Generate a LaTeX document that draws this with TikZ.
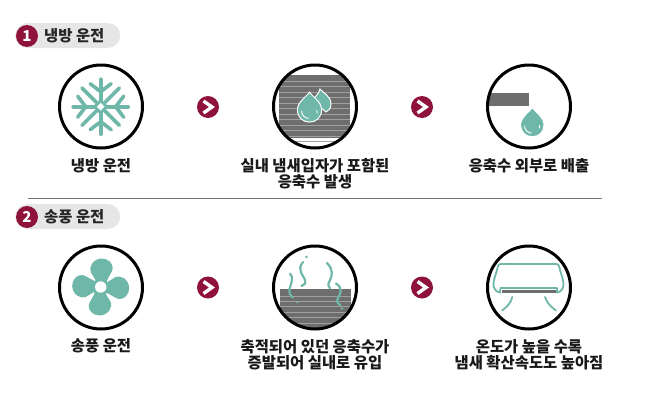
\documentclass[tikz,border=0pt]{standalone}
\usepackage{fontspec}
\setmainfont{Noto Sans CJK KR}
\definecolor{teal1}{HTML}{6FB7A9}
\definecolor{maroon1}{HTML}{8E1239}
\definecolor{pill}{HTML}{E6E6E6}
\definecolor{gr1}{HTML}{6E6E6E}
\definecolor{gr2}{HTML}{A0A0A0}
\tikzset{
 ring/.style={circle,draw=black,line width=3pt,minimum size=83pt,inner sep=0pt},
 cap1/.style={font=\fontsize{15.4}{16}\selectfont\bfseries,align=center,inner sep=0pt,text=black!90},
 head/.style={font=\fontsize{15.4}{16}\selectfont\bfseries,inner sep=0pt,text=black!85,anchor=west},
 numdot/.style={circle,fill=maroon1,minimum size=22pt,inner sep=0pt,text=white,font=\fontsize{15}{16}\selectfont\bfseries},
 pillbox/.style={rounded corners=12.5pt,fill=pill,draw=none,minimum width=105pt,minimum height=25pt,inner sep=0pt},
 nextdot/.style={circle,fill=maroon1,minimum size=22pt,inner sep=0pt},
 chev/.style={draw=white,line width=3.4pt,line join=miter},
 teal line/.style={draw=teal1,line width=3.6pt,line cap=round},
 wave/.style={draw=teal1,line width=2.2pt,line cap=round},
 ac/.style={draw=teal1,line width=1.8pt,line cap=round,line join=round},
 shine/.style={draw=white,line width=0.9pt,line cap=round}
}
\newcommand{\mydrop}[3]{%
 \begin{scope}[shift={(#1,#2)},scale=#3]
  \path[fill=teal1,draw=white,line width=1pt] (0,-17) .. controls (3,-12.5) and (11.5,-8) .. (11.5,0) .. controls (11.5,7) and (6.5,11.5) .. (0,11.5) .. controls (-6.5,11.5) and (-11.5,7) .. (-11.5,0) .. controls (-11.5,-8) and (-3,-12.5) .. (0,-17) -- cycle;
  \draw[shine] (-7.5,1) .. controls (-7.5,5) and (-4.5,7.5) .. (-1,8);
  \draw[shine] (7,0.5) -- (7.3,3);
 \end{scope}}
\newcommand{\mygrille}[6]{%
 \fill[gr1] (#1,#2) rectangle (#3,#4);
 \foreach \i in {0,...,#6}{\fill[gr2] (#1,#5+5.45*\i) rectangle (#3,#5+5.45*\i+1);}
}
\begin{document}
\begin{tikzpicture}[x=1pt,y=-1pt]
\useasboundingbox[fill=white] (0,0) rectangle (657,402);
% headers
\node[pillbox,anchor=west] (p1) at (15,35.5) {};
\node[numdot] (n1) at (27,36) {1};
\node[head] (h1) at (44,35.5) {냉방 운전};
\node[pillbox,anchor=west] (p2) at (15,216.5) {};
\node[numdot] (n2) at (27,217) {2};
\node[head] (h2) at (44,216.5) {송풍 운전};
% rule
\coordinate (ra) at (28,198.5); \coordinate (rb) at (602,198.5);
\draw[black!55,line width=1.2pt] (ra) -- (rb);
% grille 1
\begin{scope}
 \clip (315,106.5) circle (42);
 \mygrille{279}{75}{350}{138}{81}{11}
\end{scope}
% drops in icon 2
\path[fill=teal1,draw=white,line width=1pt] (320,89) .. controls (323,93) and (331,96) .. (331,104) .. controls (331,108) and (329,111) .. (326,112) -- (312,100) .. controls (315,97) and (319,94) .. (320,89) -- cycle;
\mydrop{309.5}{110}{1.05}
% drop icon 3
\begin{scope}
 \clip (529,106.5) circle (42);
 \fill[gr1] (480,93) rectangle (529,106);
\end{scope}
\mydrop{532.3}{125}{1.02}
% grille 2
\begin{scope}
 \clip (315,287.5) circle (42);
 \mygrille{280}{289}{351}{340}{295.5}{8}
\end{scope}
% wavy
\draw[wave] (290,273.5) .. controls (296,280) and (287,287) .. (290,294) .. controls (291,296) and (292,297) .. (293,297.5);
\fill[teal1] (297.5,302) circle (1.3);
\fill[teal1] (306.5,257) circle (1.3);
\draw[wave] (303,262) .. controls (296,270) and (304,276) .. (305,280) .. controls (306,284) and (304,285) .. (301.5,286);
\draw[wave] (327,263) .. controls (334,270) and (332,276) .. (330,280) .. controls (327,285) and (329,287) .. (330,288.5);
\draw[wave] (336,283.5) .. controls (343,288) and (341,293) .. (338,298) .. controls (336,302) and (338,304) .. (340,305);
\fill[teal1] (342,308.5) circle (1.3);
% snowflake
\begin{scope}[shift={(100.7,106.7)}]
 \foreach \a in {0,90,180,270}{
  \begin{scope}[rotate=\a]
   \draw[teal line] (0,-6) -- (0,-27.5);
   \draw[teal line] (-10.5,-23) -- (0,-15) -- (10.5,-23);
  \end{scope}}
 \foreach \a in {45,135,225,315}{
  \begin{scope}[rotate=\a]
   \draw[teal line] (0,-6) -- (0,-26.5);
  \end{scope}}
 \fill[teal1] (-8,0) -- (0,-8) -- (8,0) -- (0,8) -- cycle;
 \fill[white] (-3.8,0) -- (0,-3.8) -- (3.8,0) -- (0,3.8) -- cycle;
\end{scope}
% fan
\begin{scope}[shift={(100.7,287)}]
 \foreach \a in {0,90,180,270}{
  \begin{scope}[rotate=\a]
   \fill[teal1] (-4.5,-6) -- (-10,-15) .. controls (-12,-20) and (-8,-28) .. (1,-28.5) .. controls (7,-28.5) and (12.5,-24) .. (12,-18.5) .. controls (11.5,-15) and (8,-11) .. (5.5,-5) -- (0,0) -- cycle;
  \end{scope}}
 \fill[teal1] (0,0) circle (8.5);
 \fill[white] (0,0) circle (5.7);
\end{scope}
% AC
\draw[ac] (501,264) -- (556,264) .. controls (558,264) and (558.5,265) .. (559,266) .. controls (560,272) and (564,280) .. (563.5,285) .. controls (563,289) and (561,292) .. (557,292.5);
\draw[ac] (501,264) .. controls (499,264) and (498.5,265) .. (498,266) .. controls (497,272) and (493,280) .. (493.5,285) .. controls (494,289) and (496,292) .. (500,292.5);
\draw[ac] (500,292.5) -- (500.5,288) -- (557,288) -- (557,292.5);
\fill[gr1] (502,290) rectangle (556,293);
\draw[ac] (512.3,297) .. controls (511,303) and (507,307) .. (502,310.5);
\draw[ac] (545,297) .. controls (547,303) and (551,307) .. (556,310.5);
% rings
\node[ring] (r1) at (101,106.5) {};
\node[ring] (r2) at (315,106.5) {};
\node[ring] (r3) at (529,106.5) {};
\node[ring] (r4) at (101,287.5) {};
\node[ring] (r5) at (315,287.5) {};
\node[ring] (r6) at (529,287.5) {};
% next markers
\foreach \nm/\x/\y in {a1/208/107,a2/422/107,a3/208/287.5,a4/422/287.5}{
 \node[nextdot] (\nm) at (\x,\y) {};
 \draw[chev] (\x-4.5,\y-6) -- (\x+4,\y) -- (\x-4.5,\y+6);
}
% captions
\node[cap1] (c1) at (101,165.5) {냉방 운전};
\node[cap1] (c2) at (315,173.5) {실내 냄새입자가 포함된\\응축수 발생};
\node[cap1] (c3) at (529,165.5) {응축수 외부로 배출};
\node[cap1] (c4) at (101,346) {송풍 운전};
\node[cap1] (c5) at (315,354.5) {축적되어 있던 응축수가\\증발되어 실내로 유입};
\node[cap1] (c6) at (529,354.5) {온도가 높을 수록\\냄새 확산속도도 높아짐};
\end{tikzpicture}
\end{document}
